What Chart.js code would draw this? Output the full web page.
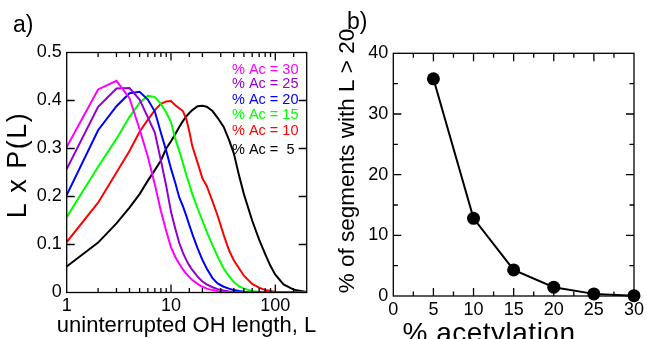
<!DOCTYPE html>
<html><head><meta charset="utf-8">
<script src="https://cdn.jsdelivr.net/npm/chart.js@4.4.1/dist/chart.umd.min.js"></script>
<style>
html,body{margin:0;padding:0;background:#fff;}
#wa{position:absolute;left:0;top:0;width:330px;height:339px;}
#wb{position:absolute;left:330px;top:0;width:317px;height:339px;}
</style></head><body>
<div id="wa"><canvas id="ca"></canvas></div>
<div id="wb"><canvas id="cb"></canvas></div>
<script>
// ---------- Panel a data ----------
const segLength = [1,2,3,4,5,6,7,8,9,10,11,12,13,14,15,16,18,20,22,25,28,32,36,40,45,50,60,70,80,90,100,120,150,200];
const ac30 = [.303,.423,.441,.405,.34,.283,.225,.17,.128,.094,.074,.06,.048,.039,.032,.026,.018,.012,.008,.005,.003,.0015,.0008,.0004,.0002,0,0,0,0,0,0,0,0,0];
const ac25 = [.257,.387,.425,.426,.402,.365,.333,.275,.222,.168,.133,.103,.083,.068,.056,.047,.033,.023,.017,.011,.007,.004,.002,.001,.0005,0,0,0,0,0,0,0,0,0];
const ac20 = [.203,.338,.388,.415,.418,.402,.377,.333,.295,.258,.228,.198,.18,.16,.14,.122,.092,.068,.05,.03,.019,.012,.008,.005,.003,.0015,.0005,0,0,0,0,0,0,0];
const ac15 = [.157,.262,.32,.366,.395,.41,.407,.393,.375,.355,.32,.295,.27,.245,.225,.205,.175,.15,.127,.098,.075,.05,.034,.022,.013,.008,.003,.001,0,0,0,0,0,0];
const ac10 = [.105,.187,.25,.295,.335,.36,.38,.393,.398,.399,.39,.384,.378,.362,.335,.305,.27,.238,.222,.19,.16,.12,.088,.067,.05,.035,.018,.01,.005,.003,.001,0,0,0];
const ac5  = [.054,.104,.144,.177,.205,.233,.255,.275,.30,.315,.33,.345,.357,.367,.374,.38,.388,.389,.387,.378,.364,.345,.318,.29,.243,.205,.15,.11,.08,.055,.037,.017,.006,.001];
const seriesLabels = ['% Ac = 30','% Ac = 25','% Ac = 20','% Ac = 15','% Ac = 10','% Ac =  5'];
const seriesColors = ['#ff00ff','#9400d3','#0000ff','#00ff00','#ff0000','#000000'];
const xTickLabelsA = [1,10,100];

// ---------- Panel b data ----------
const acetylation = [5,10,15,20,25,30];
const pctLong = [35.8,12.8,4.3,1.45,0.35,0.05];

const FONT = '"Liberation Sans", Arial, Helvetica, sans-serif';

function framePlugin(opts){
  return {
    id:'frame'+opts.id,
    afterDraw(chart){
      const ctx = chart.ctx;
      const {left,right,top,bottom} = chart.chartArea;
      ctx.save();
      ctx.strokeStyle = '#000';
      ctx.lineWidth = 1.3;
      ctx.strokeRect(left,top,right-left,bottom-top);
      const xs = chart.scales.x, ys = chart.scales.y;
      xs.ticks.forEach(t=>{
        const px = xs.getPixelForValue(t.value);
        if (px <= left+0.5 || px >= right-0.5) return;
        const len = opts.xMajor(t.value) ? 8 : 4.5;
        ctx.beginPath();
        ctx.moveTo(px,bottom); ctx.lineTo(px,bottom-len);
        ctx.moveTo(px,top); ctx.lineTo(px,top+len);
        ctx.stroke();
      });
      ys.ticks.forEach(t=>{
        const py = ys.getPixelForValue(t.value);
        if (py <= top+0.5 || py >= bottom-0.5) return;
        const len = opts.yMajor(t.value) ? 8 : 4.5;
        ctx.beginPath();
        ctx.moveTo(left,py); ctx.lineTo(left+len,py);
        ctx.moveTo(right,py); ctx.lineTo(right-len,py);
        ctx.stroke();
      });
      opts.texts.forEach(tx=>{
        ctx.save();
        ctx.font = tx.size+'px '+FONT;
        ctx.fillStyle = tx.color || '#000';
        ctx.textAlign = tx.align || 'center';
        ctx.textBaseline = tx.baseline || 'middle';
        if ('letterSpacing' in ctx) ctx.letterSpacing = (tx.ls || 0)+'px';
        ctx.translate(tx.x, tx.y);
        if (tx.rot) ctx.rotate(tx.rot);
        ctx.fillText(tx.text, 0, 0);
        ctx.restore();
      });
      ctx.restore();
    }
  };
}

const seriesA = [ac30,ac25,ac20,ac15,ac10,ac5];
const legendY = [70,83.5,99.5,114.5,130.5,149.5];
const textsA = [
  {text:'a)', x:13, y:32, size:23, align:'left', baseline:'alphabetic'},
  {text:'uninterrupted OH length, L', x:186.5, y:326, size:22},
  {text:'L x P(L)', x:19, y:165, size:27, ls:1.5, rot:-Math.PI/2}
];
seriesLabels.forEach((s,i)=>textsA.push({text:s, x:232, y:legendY[i], size:14.5, align:'left', color:seriesColors[i]}));

new Chart(document.getElementById('ca'), {
  type:'line',
  data:{
    datasets: seriesA.map((arr,i)=>({
      label: seriesLabels[i],
      data: segLength.map((L,j)=>({x:L, y:arr[j]})),
      borderColor: seriesColors[i],
      backgroundColor: seriesColors[i],
      borderWidth: 2,
      pointRadius: 0,
      tension: 0,
      fill: false
    }))
  },
  options:{
    responsive:true, maintainAspectRatio:false, animation:false,
    layout:{padding:{left:0, top:52.5, right:23.3, bottom:0}},
    plugins:{legend:{display:false}, tooltip:{enabled:false}},
    scales:{
      x:{type:'logarithmic', min:1, max:200,
         grid:{display:false, drawTicks:false}, border:{display:false},
         ticks:{autoSkip:false, maxRotation:0, minRotation:0, padding:3, color:'#000',
                font:{family:FONT, size:18},
                callback:(v)=> xTickLabelsA.includes(v) ? String(v) : ''},
         afterFit:(s)=>{ s.height = 46.5; }},
      y:{type:'linear', min:0, max:0.5,
         grid:{display:false, drawTicks:false}, border:{display:false},
         ticks:{stepSize:0.1, padding:5, color:'#000', font:{family:FONT, size:18},
                callback:(v)=> String(Math.round(v*10)/10)},
         afterFit:(s)=>{ s.width = 66.7; }}
    }
  },
  plugins:[framePlugin({id:'a', texts:textsA,
    xMajor:(v)=> xTickLabelsA.includes(v),
    yMajor:()=>true})]
});

const textsB = [
  {text:'b)', x:17, y:29, size:23, align:'left', baseline:'alphabetic'},
  {text:'% acetylation', x:159, y:342, size:28, ls:0.5, baseline:'alphabetic'},
  {text:'% of segments with L > 20', x:18, y:161, size:22.5, rot:-Math.PI/2}
];

new Chart(document.getElementById('cb'), {
  type:'line',
  data:{
    datasets:[{
      label:'% of segments with L > 20',
      data: acetylation.map((a,i)=>({x:a, y:pctLong[i]})),
      borderColor:'#000', backgroundColor:'#000',
      borderWidth:2, pointRadius:6.5, pointBorderWidth:0, tension:0, clip:false
    }]
  },
  options:{
    responsive:true, maintainAspectRatio:false, animation:false,
    layout:{padding:{left:0, top:53.3, right:10.3, bottom:0}},
    plugins:{legend:{display:false}, tooltip:{enabled:false}},
    scales:{
      x:{type:'linear', min:0, max:30,
         grid:{display:false, drawTicks:false}, border:{display:false},
         ticks:{stepSize:2.5, autoSkip:false, maxRotation:0, padding:3, color:'#000',
                font:{family:FONT, size:18},
                callback:(v)=> (v % 5 === 0) ? String(v) : ''},
         afterFit:(s)=>{ s.height = 43; }},
      y:{type:'linear', min:0, max:40,
         grid:{display:false, drawTicks:false}, border:{display:false},
         ticks:{stepSize:5, padding:5, color:'#000', font:{family:FONT, size:18},
                callback:(v)=> (v % 10 === 0) ? String(v) : ''},
         afterFit:(s)=>{ s.width = 63.3; }}
    }
  },
  plugins:[framePlugin({id:'b', texts:textsB,
    xMajor:(v)=> v % 5 === 0,
    yMajor:(v)=> v % 10 === 0})]
});
</script>
</body></html>
